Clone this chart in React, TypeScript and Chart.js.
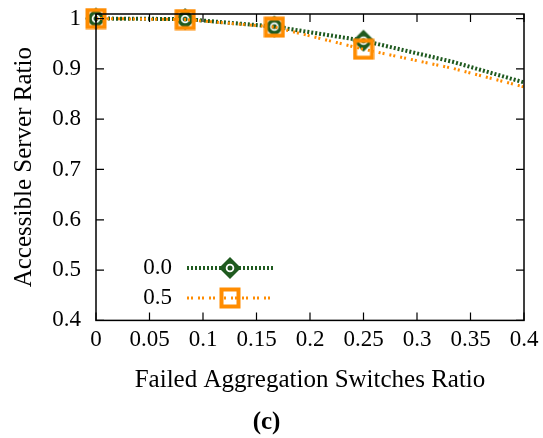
import React, { useEffect, useRef } from "react";
import { Chart, registerables } from "chart.js";

Chart.register(...registerables);

const xValues = [0, 0.0833, 0.1667, 0.25, 0.3333, 0.4];
const series00 = [1.0, 0.999, 0.984, 0.956, 0.914, 0.873];
const series05 = [1.0, 0.998, 0.983, 0.939, 0.901, 0.864];
const seriesLabels = ["0.0", "0.5"];
const xTicks = [0, 0.05, 0.1, 0.15, 0.2, 0.25, 0.3, 0.35, 0.4];
const xTickLabels = ["0", "0.05", "0.1", "0.15", "0.2", "0.25", "0.3", "0.35", "0.4"];
const yTicks = [0.4, 0.5, 0.6, 0.7, 0.8, 0.9, 1.0];
const yTickLabels = ["0.4", "0.5", "0.6", "0.7", "0.8", "0.9", "1"];

const GREEN = "#1f5a1f";
const ORANGE = "#ff8c00";
const FONT = "'Liberation Serif', 'Times New Roman', serif";

function makeDiamond(): HTMLCanvasElement {
  const c = document.createElement("canvas");
  c.width = 24; c.height = 24;
  const g = c.getContext("2d")!;
  g.fillStyle = GREEN;
  g.beginPath();
  g.moveTo(12, 1); g.lineTo(23, 12); g.lineTo(12, 23); g.lineTo(1, 12);
  g.closePath(); g.fill();
  g.strokeStyle = "#ffffff"; g.lineWidth = 1.8;
  g.beginPath(); g.arc(12, 12, 3.4, 0, Math.PI * 2); g.stroke();
  return c;
}

function makeSquare(): HTMLCanvasElement {
  const c = document.createElement("canvas");
  c.width = 22; c.height = 22;
  const g = c.getContext("2d")!;
  g.strokeStyle = ORANGE; g.lineWidth = 4;
  g.strokeRect(2.5, 2.5, 17, 17);
  return c;
}

export default function App() {
  const ref = useRef<HTMLCanvasElement | null>(null);
  useEffect(() => {
    if (!ref.current) return;
    const diamond = makeDiamond();
    const square = makeSquare();
    const radii = xValues.map((_, i) => (i < 4 ? 10 : 0));

    const framePlugin = {
      id: "frame",
      afterDatasetsDraw(chart: any) {
        const { ctx, chartArea: a, scales } = chart;
        ctx.save();
        ctx.strokeStyle = "#000";
        ctx.lineWidth = 1.5;
        ctx.strokeRect(a.left, a.top, a.right - a.left, a.bottom - a.top);
        ctx.lineWidth = 1.2;
        ctx.beginPath();
        for (const v of xTicks) {
          const px = scales.x.getPixelForValue(v);
          ctx.moveTo(px, a.bottom); ctx.lineTo(px, a.bottom - 8);
          ctx.moveTo(px, a.top); ctx.lineTo(px, a.top + 8);
        }
        for (const v of yTicks) {
          const py = scales.y.getPixelForValue(v);
          ctx.moveTo(a.left, py); ctx.lineTo(a.left + 8, py);
          ctx.moveTo(a.right, py); ctx.lineTo(a.right - 8, py);
        }
        ctx.stroke();
        ctx.restore();
      },
    };

    const legendPlugin = {
      id: "customLegend",
      afterDraw(chart: any) {
        const { ctx } = chart;
        const rows = [
          { ds: chart.data.datasets[0], y: 268, img: diamond },
          { ds: chart.data.datasets[1], y: 298, img: square },
        ];
        ctx.save();
        for (const r of rows) {
          ctx.font = `23px ${FONT}`;
          ctx.fillStyle = "#000";
          ctx.textAlign = "right";
          ctx.textBaseline = "middle";
          ctx.fillText(r.ds.label, 172, r.y);
          ctx.strokeStyle = r.ds.borderColor;
          ctx.lineWidth = r.ds.borderWidth;
          ctx.setLineDash(r.ds.borderDash);
          ctx.beginPath();
          ctx.moveTo(187, r.y); ctx.lineTo(273, r.y);
          ctx.stroke();
          ctx.setLineDash([]);
          ctx.drawImage(r.img, 230 - r.img.width / 2, r.y - r.img.height / 2);
        }
        ctx.restore();
      },
    };

    const chart = new Chart(ref.current, {
      type: "line",
      data: {
        datasets: [
          {
            label: seriesLabels[0],
            data: xValues.map((x, i) => ({ x, y: series00[i] })),
            borderColor: GREEN,
            backgroundColor: GREEN,
            borderWidth: 4,
            borderDash: [2, 2],
            pointStyle: diamond as any,
            pointRadius: radii,
            clip: false as any,
            order: 1,
          },
          {
            label: seriesLabels[1],
            data: xValues.map((x, i) => ({ x, y: series05[i] })),
            borderColor: ORANGE,
            backgroundColor: ORANGE,
            borderWidth: 3,
            borderDash: [2, 2, 2, 5],
            pointStyle: square as any,
            pointRadius: radii,
            clip: false as any,
            order: 0,
          },
        ],
      },
      options: {
        responsive: false,
        animation: false,
        layout: { padding: { top: 12, right: 19, left: 9, bottom: 0 } },
        plugins: {
          legend: { display: false },
          tooltip: { enabled: false },
          title: {
            display: true,
            position: "bottom",
            text: "(c)",
            color: "#000",
            font: { family: FONT, size: 25, weight: "bold" },
            padding: { top: 9, bottom: 0 },
          },
        },
        scales: {
          x: {
            type: "linear",
            min: 0,
            max: 0.4,
            grid: { display: false, drawTicks: false },
            border: { display: false },
            afterBuildTicks: (s: any) => { s.ticks = xTicks.map((v) => ({ value: v })); },
            afterFit: (s: any) => { s.paddingLeft = 0; s.paddingRight = 0; },
            ticks: {
              color: "#000",
              font: { family: FONT, size: 23 },
              padding: 6,
              maxRotation: 0,
              autoSkip: false,
              callback: (v: any) => { const i = xTicks.indexOf(Number(v)); return i >= 0 ? xTickLabels[i] : ""; },
            },
            title: {
              display: true,
              text: "Failed Aggregation Switches Ratio",
              color: "#000",
              font: { family: FONT, size: 25 },
              padding: { top: 5, bottom: 4 },
            },
          },
          y: {
            type: "linear",
            min: 0.4,
            max: 1.009,
            grid: { display: false, drawTicks: false },
            border: { display: false },
            afterBuildTicks: (s: any) => { s.ticks = yTicks.map((v) => ({ value: v })); },
            afterFit: (s: any) => { s.width = 87; s.paddingTop = 0; s.paddingBottom = 0; },
            ticks: {
              color: "#000",
              font: { family: FONT, size: 23 },
              padding: 15,
              autoSkip: false,
              callback: (v: any) => { const i = yTicks.findIndex((t) => Math.abs(t - Number(v)) < 1e-6); return i >= 0 ? yTickLabels[i] : ""; },
            },
            title: {
              display: true,
              text: "Accessible Server Ratio",
              color: "#000",
              font: { family: FONT, size: 25 },
              padding: { top: 0, bottom: 0 },
            },
          },
        },
      },
      plugins: [framePlugin, legendPlugin],
    });
    return () => chart.destroy();
  }, []);

  return (
    <div style={{ position: "fixed", left: 0, top: 0, width: 543, height: 438, background: "#fff" }}>
      <canvas ref={ref} width={543} height={438} style={{ display: "block" }} />
    </div>
  );
}
